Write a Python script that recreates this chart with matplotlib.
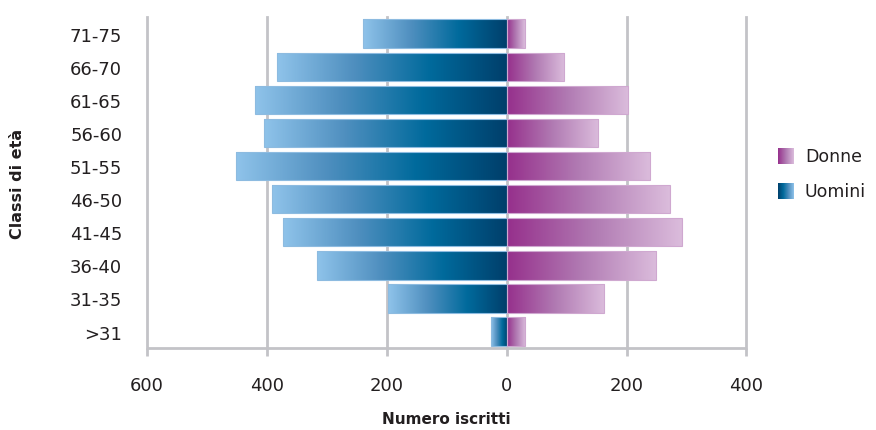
import numpy as np
import matplotlib.pyplot as plt
from matplotlib.colors import LinearSegmentedColormap

# age classes, bottom to top
classi = [">31", "31-35", "36-40", "41-45", "46-50", "51-55", "56-60", "61-65", "66-70", "71-75"]
uomini = [27, 198, 316, 374, 391, 451, 405, 420, 383, 240]
donne = [31, 163, 249, 292, 272, 240, 153, 203, 96, 30]
serie = ["Donne", "Uomini"]
xticks = [-600, -400, -200, 0, 200, 400]

blu = LinearSegmentedColormap.from_list("blu", ["#8fc3ea", "#4f8fbf", "#006a9c", "#003f6b"])
viola = LinearSegmentedColormap.from_list("viola", ["#96308c", "#b17bb3", "#dbbcdc"])
grad = np.linspace(0, 1, 256).reshape(1, -1)
testo = "#231f20"
grigio = "#c3c3c7"

fig = plt.figure(figsize=(8.76, 4.31), dpi=100)
ax = fig.add_axes([0.168, 0.19, 0.684, 0.768])

y = np.arange(len(classi))
h = 0.86
bars_u = ax.barh(y, [-v for v in uomini], height=h, color="none", edgecolor="#8dbbe0", linewidth=0.8, zorder=3)
bars_d = ax.barh(y, donne, height=h, color="none", edgecolor="#cfa8d0", linewidth=0.8, zorder=3)

# gradient fill clipped to each bar
for b in bars_u:
    x0, yb = b.get_x(), b.get_y()
    w, hh = b.get_width(), b.get_height()
    im = ax.imshow(grad, cmap=blu, aspect="auto", extent=[x0 + w, x0, yb, yb + hh],
                   zorder=2, interpolation="bicubic")
    im.set_clip_path(b)
for b in bars_d:
    x0, yb = b.get_x(), b.get_y()
    w, hh = b.get_width(), b.get_height()
    im = ax.imshow(grad, cmap=viola, aspect="auto", extent=[x0, x0 + w, yb, yb + hh],
                   zorder=2, interpolation="bicubic")
    im.set_clip_path(b)

ax.set_xlim(-600, 400)
ax.set_ylim(-0.5, len(classi) - 0.5)
ax.set_xticks(xticks)
ax.set_xticklabels([str(abs(t)) for t in xticks])
ax.set_yticks(y)
ax.set_yticklabels(classi)

ax.grid(axis="x", color=grigio, linewidth=2, zorder=1)
for gl in ax.get_xgridlines():
    gl.set_clip_on(False)
ax.set_axisbelow(True)
for s in ["top", "right", "left"]:
    ax.spines[s].set_visible(False)
ax.spines["bottom"].set_color(grigio)
ax.spines["bottom"].set_linewidth(2)
ax.spines["bottom"].set_capstyle("butt")
ax.tick_params(axis="x", colors=grigio, length=6, width=2, pad=14, labelsize=13, labelcolor=testo)
ax.tick_params(axis="y", length=0, pad=18, labelsize=13, labelcolor=testo)

ax.set_xlabel("Numero iscritti", fontsize=11, fontweight="bold", color=testo, labelpad=12)
ax.set_ylabel("Classi di età", fontsize=11.5, fontweight="bold", color=testo, labelpad=32)

# legend with gradient swatches
for i, (nome, cm) in enumerate(zip(serie, [viola, blu])):
    yy = 431 - 157 - i * 35
    sw = fig.add_axes([778 / 876, (yy - 8) / 431, 16 / 876, 16 / 431])
    sw.imshow(grad if nome == "Donne" else grad[:, ::-1], cmap=cm, aspect="auto")
    sw.set_axis_off()
    fig.text(805 / 876, yy / 431, nome, fontsize=12.5, color=testo, va="center", ha="left")

fig.savefig("out.png", dpi=100)
